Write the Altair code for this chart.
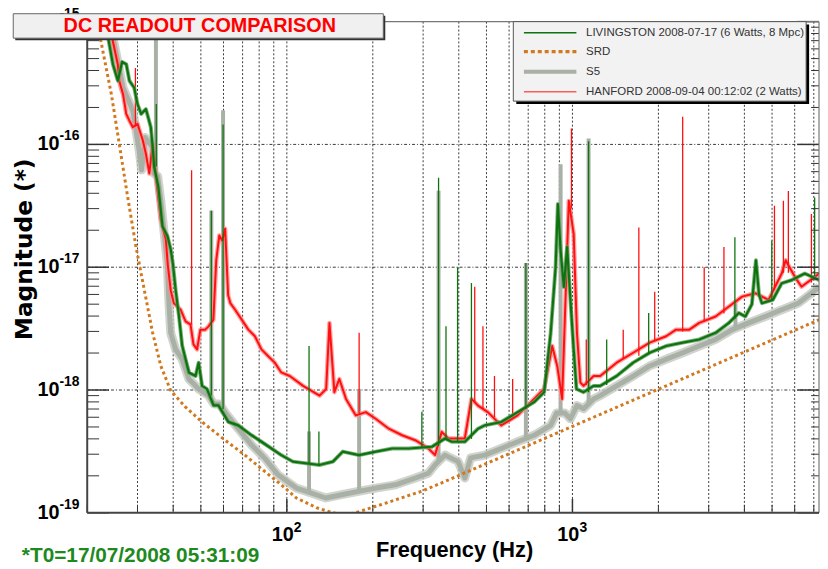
import altair as alt
import pandas as pd

# ---------------- data ----------------
chart_title = "DC READOUT COMPARISON"
x_title = "Frequency (Hz)"
y_title = "Magnitude (*)"
footnote = "*T0=17/07/2008 05:31:09"
legend_labels = ["LIVINGSTON 2008-07-17 (6 Watts, 8 Mpc)", "SRD", "S5",
                 "HANFORD 2008-09-04 00:12:02 (2 Watts)"]

srd_points = [
    (21.6, 1.0e-15), (22.4, 6.7e-16), (24.3, 2.56e-16), (25.9, 1.01e-16), (27.7, 3.76e-17),
    (29.6, 1.49e-17), (31.7, 6.5e-18), (33.9, 2.92e-18), (36.2, 1.57e-18), (39.2, 9.9e-19),
    (44.2, 7.25e-19), (50.5, 5.49e-19), (60.8, 3.9e-19), (71.3, 2.95e-19), (83.7, 2.17e-19),
    (95.6, 1.69e-19), (108, 1.32e-19), (127, 1.1e-19), (145, 1.0e-19), (160, 0.96e-19),
    (174, 1.0e-19), (222, 1.2e-19), (297, 1.5e-19), (358, 1.8e-19), (1186, 6.0e-19),
    (7318, 3.74e-18),
]

s5_points = [
    (24.1, 9.5e-16), (26.7, 2.9e-16), (28.9, 1.88e-16), (30.4, 8.95e-17), (31.0, 6.2e-17),
    (31.9, 1.14e-16), (33.9, 9.5e-17), (34.3, 5.8e-17), (35.3, 5.5e-17), (36.2, 3.47e-17),
    (37.2, 1.9e-17), (38.2, 1.02e-17), (38.6, 5.4e-18), (39.2, 2.92e-18), (40.8, 2.14e-18),
    (43.0, 1.78e-18), (45.4, 1.23e-18), (49.1, 1.02e-18), (53.2, 9.0e-19), (55.5, 7.7e-19),
    (58.0, 7.7e-19), (61.3, 6.4e-19), (67.6, 4.84e-19), (75.3, 3.56e-19), (83.7, 2.78e-19),
    (93.1, 2.04e-19), (108, 1.59e-19), (137, 1.32e-19), (157, 1.41e-19), (180, 1.5e-19),
    (205, 1.59e-19), (240, 1.69e-19), (282, 1.92e-19), (313, 2.1e-19), (330, 2.45e-19),
    (358, 2.95e-19), (398, 2.61e-19), (420, 1.92e-19), (440, 2.8e-19), (493, 2.95e-19),
    (563, 3.34e-19), (643, 3.79e-19), (734, 4.28e-19), (839, 5.15e-19), (880, 6.5e-19),
    (940, 6.5e-19), (984, 5.83e-19), (1037, 7.47e-19), (1094, 7.03e-19), (1186, 8.46e-19),
    (1251, 9.0e-19), (1428, 1.08e-18), (1632, 1.3e-18), (1864, 1.57e-18), (2128, 1.78e-18),
    (2432, 2.01e-18), (2779, 2.28e-18), (3172, 2.58e-18), (3625, 3.1e-18), (4142, 3.52e-18),
    (4729, 3.97e-18), (5404, 4.5e-18), (6175, 5.09e-18), (6867, 6.14e-18), (7318, 6.93e-18),
]
s5_spikes = [  # (frequency, floor, peak)
    (34.8, 5.7e-17, 1.5e-15), (54.4, 8.5e-19, 2.9e-17), (59.8, 7.0e-19, 1.9e-16),
    (119.6, 1.5e-19, 4.6e-19), (179.1, 1.5e-19, 1.02e-18), (339.8, 2.6e-19, 4.2e-17),
    (687, 4.0e-19, 1.08e-17), (909, 6.5e-19, 6.9e-17), (1139, 7.5e-19, 1.12e-16),
    (3722, 3.2e-18, 5.4e-18),
]

livingston_points = [
    (23.3, 1.0e-15), (23.7, 7.3e-16), (24.6, 4.5e-16), (25.6, 3.3e-16), (26.5, 4.7e-16),
    (27.4, 4.5e-16), (28.1, 3.3e-16), (29.2, 2.9e-16), (30.0, 2.13e-16), (30.9, 1.77e-16),
    (32.1, 1.94e-16), (33.4, 1.38e-16), (33.9, 9.5e-17), (34.3, 6.6e-17), (35.5, 4.5e-17),
    (36.7, 2.15e-17), (38.2, 1.79e-17), (39.2, 1.4e-17), (39.9, 1.07e-17), (40.8, 6.5e-18),
    (41.9, 4.0e-18), (43.0, 2.3e-18), (45.4, 1.39e-18), (47.9, 1.3e-18), (49.1, 1.67e-18),
    (50.5, 1.08e-18), (52.5, 1.02e-18), (55.4, 7.5e-19), (57.6, 7.5e-19), (62.4, 5.5e-19),
    (67.6, 5.15e-19), (75.3, 4.28e-19), (81.5, 3.79e-19), (88.3, 3.34e-19), (95.6, 2.95e-19),
    (105, 2.61e-19), (130, 2.45e-19), (145, 2.61e-19), (157, 3.15e-19), (179, 2.95e-19),
    (205, 3.15e-19), (234, 3.34e-19), (267, 3.34e-19), (322, 3.45e-19), (358, 4.03e-19),
    (378, 3.79e-19), (420, 3.79e-19), (467, 4.84e-19), (493, 5.15e-19), (563, 5.49e-19),
    (643, 6.61e-19), (734, 7.96e-19), (796, 9.6e-19), (839, 2.9e-18), (873, 1.0e-17),
    (889, 3.27e-17), (909, 1.37e-17), (933, 6.9e-18), (958, 1.46e-17), (984, 5.4e-18),
    (1010, 2.14e-18), (1033, 1.02e-18), (1094, 9.6e-19), (1186, 1.08e-18), (1251, 1.08e-18),
    (1428, 1.3e-18), (1632, 1.67e-18), (1864, 2.01e-18), (2128, 2.28e-18), (2432, 2.43e-18),
    (2779, 2.58e-18), (3172, 2.92e-18), (3531, 3.52e-18), (3824, 4.24e-18), (4031, 3.97e-18),
    (4250, 5.0e-18), (4390, 1.14e-17), (4500, 6.0e-18), (4606, 5.09e-18), (5029, 5.42e-18),
    (5404, 7.39e-18), (5851, 7.85e-18), (6508, 8.89e-18), (7318, 7.85e-18),
]
livingston_spikes = [
    (34.9, 6.6e-17, 2.13e-16), (54.4, 9.0e-19, 2.88e-17), (59.8, 7.0e-19, 1.45e-16),
    (119.6, 2.5e-19, 2.28e-18), (129.5, 2.45e-19, 4.6e-19), (297, 3.4e-19, 6.65e-19),
    (339.8, 3.5e-19, 5.35e-17), (360.8, 4.0e-19, 3.3e-18), (396.1, 3.8e-19, 1.0e-17),
    (442.9, 4.0e-19, 7.43e-18), (687.1, 7.0e-19, 1.08e-17), (1139, 9.6e-19, 1.06e-16),
    (1318, 1.1e-18, 2.58e-18), (1849, 2.0e-18, 4.24e-18), (3705, 3.8e-18, 1.75e-17),
    (4989, 5.3e-18, 1.65e-17), (7048, 8.5e-18, 3.69e-17),
]

hanford_points = [
    (24.3, 1.0e-15), (24.6, 6.9e-16), (25.6, 4.48e-16), (25.9, 3.28e-16), (26.7, 2.56e-16),
    (27.4, 1.77e-16), (28.1, 1.56e-16), (28.9, 1.38e-16), (30.0, 1.47e-16), (31.3, 1.08e-16),
    (32.1, 8.4e-17), (33.0, 5.8e-17), (33.9, 1.01e-16), (34.8, 5.45e-17), (36.2, 2.44e-17),
    (37.7, 1.68e-17), (38.3, 1.04e-17), (39.2, 6.5e-18), (40.2, 5.1e-18), (42.5, 4.5e-18),
    (44.2, 3.62e-18), (46.0, 3.41e-18), (47.1, 2.35e-18), (48.5, 2.14e-18), (49.8, 3.1e-18),
    (51.8, 3.1e-18), (53.2, 3.3e-18), (55.3, 3.74e-18), (56.6, 1.14e-17), (58.0, 1.81e-17),
    (59.4, 1.65e-17), (60.8, 2.06e-17), (62.3, 5.9e-18), (63.4, 5.1e-18), (65.9, 4.5e-18),
    (69.5, 3.74e-18), (73.3, 3.1e-18), (77.3, 2.74e-18), (81.5, 2.14e-18), (85.9, 1.89e-18),
    (90.7, 1.67e-18), (95.6, 1.39e-18), (102.4, 1.3e-18), (114, 1.08e-18), (130.2, 9.0e-19),
    (137.3, 1.02e-18), (141, 3.52e-18), (146.7, 9.6e-19), (152.7, 1.23e-18), (161.1, 8.46e-19),
    (174.4, 6.21e-19), (189, 6.61e-19), (204.6, 5.83e-19), (227.6, 4.84e-19), (253.3, 4.28e-19),
    (281.7, 3.9e-19), (313.2, 3.34e-19), (330.4, 2.95e-19), (348.6, 4.56e-19), (367.5, 4.03e-19),
    (419.9, 4.03e-19), (442.9, 8.46e-19), (467, 7.47e-19), (505.6, 6.61e-19), (562.8, 5.15e-19),
    (642.6, 6.21e-19), (734.3, 8.46e-19), (795.5, 1.02e-18), (849.6, 2.28e-18), (884.5, 1.57e-18),
    (920.3, 8.46e-19), (945.6, 5.42e-18), (971, 3.47e-17), (1010, 1.87e-17), (1037, 2.92e-18),
    (1066, 1.15e-18), (1094, 1.08e-18), (1186, 1.3e-18), (1251, 1.3e-18), (1428, 1.67e-18),
    (1632, 2.01e-18), (1864, 2.43e-18), (2128, 2.74e-18), (2305, 3.1e-18), (2566, 3.1e-18),
    (2779, 3.52e-18), (3172, 3.97e-18), (3531, 4.79e-18), (3926, 5.76e-18), (4366, 6.14e-18),
    (4861, 5.42e-18), (5404, 8.89e-18), (5579, 1.14e-17), (6009, 8.35e-18), (6339, 6.93e-18),
    (7318, 8.89e-18),
]
hanford_spikes = [
    (29.5, 1.4e-16, 4.2e-16), (46.4, 3.4e-18, 6.17e-17), (179.1, 6.4e-19, 2.92e-18),
    (454.8, 8.0e-19, 6.93e-18), (486, 7.0e-19, 3.3e-18), (533.4, 6.0e-19, 1.3e-18),
    (617.5, 6.0e-19, 1.23e-18), (992, 3.0e-17, 1.35e-16), (1118, 1.1e-18, 2.58e-18),
    (1506, 1.8e-18, 3.1e-18), (1708, 1.9e-18, 2.11e-17), (1941, 2.5e-18, 6.32e-18),
    (2432, 3.0e-18, 1.68e-16), (2893, 3.6e-18, 1.0e-17), (3392, 4.2e-18, 1.46e-17),
    (5097, 6.5e-18, 3.16e-17), (5478, 9.0e-18, 3.47e-17), (5702, 9.0e-18, 4.18e-17),
    (6867, 7.5e-18, 2.71e-17),
]

x_grid = [30, 40, 50, 60, 70, 80, 90, 100, 200, 300, 400, 500, 600, 700, 800, 900,
          1000, 2000, 3000, 4000, 5000, 6000, 7000]
x_major = [100, 1000]
x_major_exp = ["2", "3"]
x_minor = [20, 30, 40, 50, 60, 70, 80, 90, 200, 300, 400, 500, 600, 700, 800, 900,
           2000, 3000, 4000, 5000, 6000, 7000]
y_grid = [1e-18, 1e-17, 1e-16]
y_major = [1e-19, 1e-18, 1e-17, 1e-16, 1e-15]
y_major_exp = ["-19", "-18", "-17", "-16", "-15"]
y_minor = [k * 10.0 ** e for e in (-19, -18, -17, -16) for k in range(2, 10)]

# ---------------- styling ----------------
W, H = 739, 496
FONT = "Liberation Sans"
GREEN, RED, GREY, ORANGE = "#0e730e", "#ff1010", "#a9b0a6", "#d2781e"
GREEN_HALO, RED_HALO, GREY_HALO = "#5f9f5f", "#ff8c8c", "#c4c9c1"

xs = alt.Scale(type="log", domain=[20, 7300], nice=False)
ys = alt.Scale(type="log", domain=[1e-19, 1e-15], nice=False)


def X(field="f"):
    return alt.X(f"{field}:Q", scale=xs, axis=None)


def Y(field="m"):
    return alt.Y(f"{field}:Q", scale=ys, axis=None)


def pts(p):
    return pd.DataFrame(p, columns=["f", "m"])


def spk(s):
    return pd.DataFrame(s, columns=["f", "base", "peak"])


one = pd.DataFrame({"k": [0]})
layers = []

# grid
layers.append(alt.Chart(pd.DataFrame({"f": x_grid})).mark_rule(
    color="#3a3a3a", strokeWidth=1, strokeDash=[2, 2]).encode(x=X()))
layers.append(alt.Chart(pd.DataFrame({"m": y_grid})).mark_rule(
    color="#3a3a3a", strokeWidth=1, strokeDash=[3, 2, 1, 2]).encode(y=Y()))


def series(points, spikes, color, halo, lw, hw, sw):
    df = pts(points)
    out = [
        alt.Chart(df).mark_line(color=halo, strokeWidth=hw, clip=True, strokeJoin="round",
                                opacity=0.8).encode(x=X(), y=Y()),
        alt.Chart(df).mark_line(color=color, strokeWidth=lw, clip=True,
                                strokeJoin="round").encode(x=X(), y=Y()),
        alt.Chart(spk(spikes)).mark_rule(color=color, strokeWidth=sw, clip=True)
        .encode(x=X(), y=Y("base"), y2=alt.Y2("peak:Q")),
    ]
    return out


layers += series(s5_points, s5_spikes, GREY, GREY_HALO, 5, 9, 4)
layers += series(hanford_points, hanford_spikes, RED, RED_HALO, 2, 4.5, 1.3)
layers += series(livingston_points, livingston_spikes, GREEN, GREEN_HALO, 2.2, 4, 1.3)
layers.append(alt.Chart(pts(srd_points)).mark_line(
    color=ORANGE, strokeWidth=3, strokeDash=[3, 3], clip=True).encode(x=X(), y=Y()))

# inward ticks
tick_color = "#333"
layers.append(alt.Chart(pd.DataFrame({"m": y_minor})).mark_rule(color=tick_color, strokeWidth=1)
              .encode(y=Y(), x=alt.value(0), x2=alt.value(12)))
layers.append(alt.Chart(pd.DataFrame({"m": y_major})).mark_rule(color=tick_color, strokeWidth=1.5)
              .encode(y=Y(), x=alt.value(0), x2=alt.value(22)))
layers.append(alt.Chart(pd.DataFrame({"m": y_minor})).mark_rule(color=tick_color, strokeWidth=1)
              .encode(y=Y(), x=alt.value(W), x2=alt.value(W - 8)))
layers.append(alt.Chart(pd.DataFrame({"m": y_major})).mark_rule(color=tick_color, strokeWidth=1.5)
              .encode(y=Y(), x=alt.value(W), x2=alt.value(W - 22)))
layers.append(alt.Chart(pd.DataFrame({"f": x_minor})).mark_rule(color=tick_color, strokeWidth=1)
              .encode(x=X(), y=alt.value(H), y2=alt.value(H - 8)))
layers.append(alt.Chart(pd.DataFrame({"f": x_major})).mark_rule(color=tick_color, strokeWidth=1.5)
              .encode(x=X(), y=alt.value(H), y2=alt.value(H - 14)))

# frame
layers.append(alt.Chart(one).mark_rule(color="#777", strokeWidth=1.2)
              .encode(x=alt.value(0), x2=alt.value(W), y=alt.value(0)))
layers.append(alt.Chart(one).mark_rule(color="#777", strokeWidth=1.2)
              .encode(x=alt.value(W), y=alt.value(0), y2=alt.value(H)))
layers.append(alt.Chart(one).mark_rule(color="#444", strokeWidth=2)
              .encode(x=alt.value(0), y=alt.value(0), y2=alt.value(H)))
layers.append(alt.Chart(one).mark_rule(color="#444", strokeWidth=2)
              .encode(x=alt.value(0), x2=alt.value(W), y=alt.value(H)))

# tick labels
ylab = pd.DataFrame({"m": y_major, "exp": y_major_exp})
layers.append(alt.Chart(ylab).mark_text(align="right", baseline="middle", font=FONT, fontSize=20,
                                        fontWeight="bold", color="black")
              .encode(y=Y(), x=alt.value(-28), text=alt.value("10")))
layers.append(alt.Chart(ylab).mark_text(align="left", baseline="middle", font=FONT, fontSize=14,
                                        fontWeight="bold", color="black", dy=-8)
              .encode(y=Y(), x=alt.value(-28), text="exp:N"))
xlab = pd.DataFrame({"f": x_major, "exp": x_major_exp})
layers.append(alt.Chart(xlab).mark_text(align="right", baseline="middle", font=FONT, fontSize=20,
                                        fontWeight="bold", color="black", dx=7)
              .encode(x=X(), y=alt.value(H + 22.5), text=alt.value("10")))
layers.append(alt.Chart(xlab).mark_text(align="left", baseline="middle", font=FONT, fontSize=14,
                                        fontWeight="bold", color="black", dx=7)
              .encode(x=X(), y=alt.value(H + 15), text="exp:N"))

# axis titles and footnote
layers.append(alt.Chart(one).mark_text(align="center", baseline="alphabetic", font=FONT, fontSize=22,
                                       fontWeight="bold", color="black")
              .encode(x=alt.value(371), y=alt.value(H + 45), text=alt.value(x_title)))
layers.append(alt.Chart(one).mark_text(align="center", baseline="alphabetic", font="DejaVu Sans",
                                       fontSize=23.5, fontWeight="bold", color="black", angle=270)
              .encode(x=alt.value(-56), y=alt.value(230), text=alt.value(y_title)))
layers.append(alt.Chart(one).mark_text(align="left", baseline="alphabetic", font=FONT, fontSize=21,
                                       fontWeight="bold", color="#1e8a1e")
              .encode(x=alt.value(-66), y=alt.value(H + 50), text=alt.value(footnote)))

# title box
layers.append(alt.Chart(one).mark_rect(color="#333")
              .encode(x=alt.value(-72.7), x2=alt.value(301), y=alt.value(-6), y2=alt.value(18.7)))
layers.append(alt.Chart(one).mark_rect(fill="#f0f0f0", stroke="#666", strokeWidth=1)
              .encode(x=alt.value(-74.7), x2=alt.value(299), y=alt.value(-8), y2=alt.value(16.7)))
layers.append(alt.Chart(one).mark_text(align="center", baseline="alphabetic", font=FONT, fontSize=20,
                                       fontWeight="bold", color="#ff0000")
              .encode(x=alt.value(113.7), y=alt.value(10.3), text=alt.value(chart_title)))

# legend box
layers.append(alt.Chart(one).mark_rect(color="#000")
              .encode(x=alt.value(433.3), x2=alt.value(729), y=alt.value(3), y2=alt.value(83.3)))
layers.append(alt.Chart(one).mark_rect(fill="#f2f2f2", stroke="#555", strokeWidth=1)
              .encode(x=alt.value(430.3), x2=alt.value(726), y=alt.value(0), y2=alt.value(80.3)))
legend_styles = [
    dict(color=GREEN, strokeWidth=1.5),
    dict(color=ORANGE, strokeWidth=3.5, strokeDash=[4, 3]),
    dict(color=GREY, strokeWidth=4),
    dict(color="#ff5a5a", strokeWidth=1.5),
]
row_y = [11.3, 30.3, 50.7, 70.7]
for lab, sty, ry in zip(legend_labels, legend_styles, row_y):
    layers.append(alt.Chart(one).mark_rule(**sty)
                  .encode(x=alt.value(441), x2=alt.value(494), y=alt.value(ry)))
    layers.append(alt.Chart(one).mark_text(align="left", baseline="middle", font=FONT, fontSize=11.6,
                                           color="#333")
                  .encode(x=alt.value(503.7), y=alt.value(ry), text=alt.value(lab)))

chart = alt.layer(*layers).properties(
    width=W, height=H,
    padding={"left": 80, "top": 11, "right": 1, "bottom": 54},
    autosize=alt.AutoSizeParams(type="none"),
    background="white",
).configure_view(stroke=None)

chart.save("out.html", embed_options={"renderer": "svg", "actions": False})
